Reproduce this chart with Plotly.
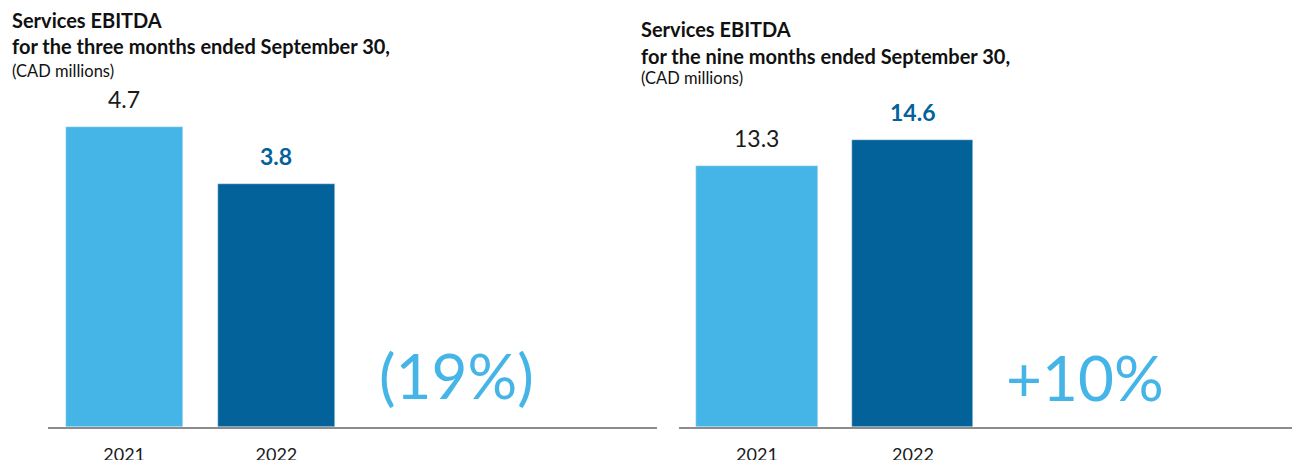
import plotly.graph_objects as go

# Services EBITDA, CAD millions
years = ["2021", "2022"]
three_months = [4.7, 3.8]
nine_months = [13.3, 14.6]
change_labels = ["(19%)", "+10%"]

LIGHT = "#44B5E6"
DARK = "#03629A"
AXIS = "#8C8C8C"
FONT = "Lato"

W, H = 1292, 460
PLOT_BOTTOM = 427  # pixel row of the baseline

fig = go.Figure()
fig.add_trace(go.Bar(x=years, y=three_months, marker_color=[LIGHT, DARK],
                     width=0.77, xaxis="x", yaxis="y", hoverinfo="skip"))
fig.add_trace(go.Bar(x=years, y=nine_months, marker_color=[LIGHT, DARK],
                     width=0.776, xaxis="x2", yaxis="y2", hoverinfo="skip"))

xcommon = dict(type="category", categoryorder="array", categoryarray=years,
               showline=True, linecolor=AXIS, linewidth=2, showgrid=False,
               zeroline=False, ticks="outside", ticklen=10,
               tickcolor="rgba(0,0,0,0)", automargin=False,
               tickfont=dict(family=FONT, size=18, color="#1a1a1a"),
               fixedrange=True)
ycommon = dict(visible=False, showgrid=False, zeroline=False, fixedrange=True,
               automargin=False)

fig.update_layout(
    width=W, height=H,
    margin=dict(l=0, r=0, t=0, b=H - PLOT_BOTTOM),
    paper_bgcolor="white", plot_bgcolor="white",
    showlegend=False, bargap=0,
    xaxis=dict(domain=[48 / W, 657 / W], range=[-0.5, 3.5], **xcommon),
    xaxis2=dict(domain=[679 / W, 1.0], range=[-0.5, 3.43], anchor="y2", **xcommon),
    yaxis=dict(domain=[0, 1], range=[0, 6.69], anchor="x", **ycommon),
    yaxis2=dict(domain=[0, 1], range=[0, 21.73], anchor="x2", **ycommon),
)


def py(pix):
    """Paper y coordinate for a pixel row."""
    return (PLOT_BOTTOM - pix) / PLOT_BOTTOM


ann = []
# Panel headings
headings = [
    (10, ["Services EBITDA", "for the three months ended September 30,", "(CAD millions)"], [20, 46, 71]),
    (639, ["Services EBITDA", "for the nine months ended September 30,", "(CAD millions)"], [29, 56, 78]),
]
for x0, lines, ys in headings:
    for i, (txt, yp) in enumerate(zip(lines, ys)):
        bold = i < 2
        ann.append(dict(
            text=f"<b>{txt}</b>" if bold else txt,
            x=x0 / W, y=py(yp), xref="paper", yref="paper",
            xanchor="left", yanchor="middle", showarrow=False,
            font=dict(family=FONT, size=20 if bold else 16.5, color="#111111"),
        ))

# Value labels above the bars (x given as category index)
for xr, yr, vals in [("x", "y", three_months), ("x2", "y2", nine_months)]:
    for i, v in enumerate(vals):
        is_current = i == 1
        ann.append(dict(
            text=f"<b>{v:.1f}</b>" if is_current else f"{v:.1f}",
            x=i, y=v, xref=xr, yref=yr,
            xanchor="center", yanchor="bottom", yshift=12, showarrow=False,
            font=dict(family=FONT, size=23, color=DARK if is_current else "#1a1a1a"),
        ))

# Year-over-year change
ann.append(dict(text=change_labels[0], x=2.18, y=0.815, xref="x", yref="y",
                xanchor="center", yanchor="middle", showarrow=False,
                font=dict(family=FONT, size=62, color=LIGHT)))
ann.append(dict(text=change_labels[1], x=2.1, y=2.54, xref="x2", yref="y2",
                xanchor="center", yanchor="middle", showarrow=False,
                font=dict(family=FONT, size=62, color=LIGHT)))

fig.update_layout(annotations=ann)
fig.write_html("out.html", config={"displayModeBar": False})
